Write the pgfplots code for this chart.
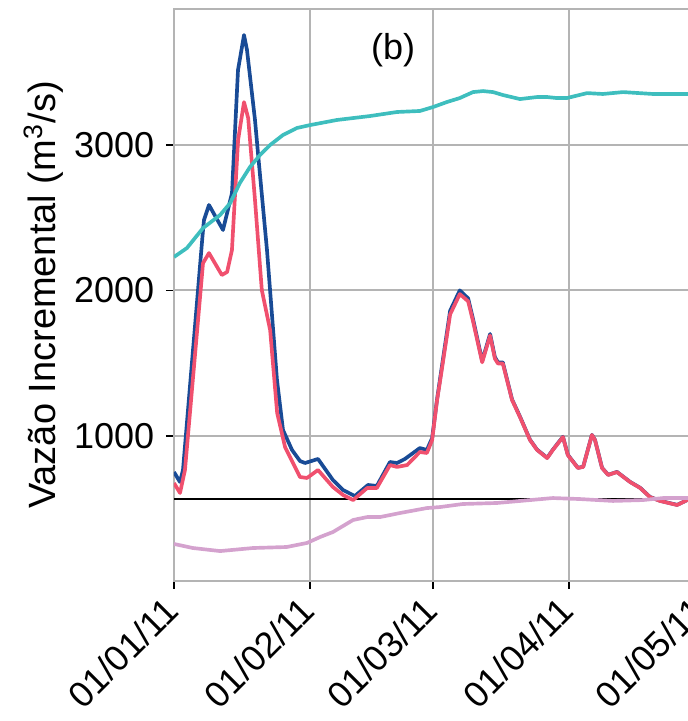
\documentclass[border=0pt]{standalone}
\usepackage{fontspec}
\setmainfont{Liberation Sans}
\usepackage{pgfplots}
\pgfplotsset{compat=1.18}
\definecolor{cblue}{RGB}{25,75,150}
\definecolor{cred}{RGB}{240,80,110}
\definecolor{cteal}{RGB}{62,190,190}
\definecolor{cpurple}{RGB}{212,162,206}
\definecolor{cgrid}{RGB}{180,180,180}
\newcommand{\fs}{\fontsize{10.8}{13}\selectfont}
\newcommand{\fl}{\fontsize{11.4}{13}\selectfont}
\begin{document}
\begin{tikzpicture}
\begin{axis}[
  scale only axis,
  width=159.36pt, height=171.6pt,
  xmin=0, xmax=121, ymin=0, ymax=3937,
  xtick={0,31,59,90,120},
  xticklabels={01/01/11,01/02/11,01/03/11,01/04/11,01/05/11},
  ytick={1000,2000,3000},
  grid=major,
  major grid style={cgrid, line width=0.6pt},
  axis line style={cgrid, line width=0.6pt},
  tick style={black, line width=0.5pt},
  major tick length=2.4pt,
  tick align=outside,
  xtick pos=bottom, ytick pos=left,
  /pgf/number format/assume math mode=true,
  /pgf/number format/1000 sep={},
  tick label style={font=\fs},
  xticklabel style={xshift=-3.5pt, rotate=45, anchor=north east, inner sep=1pt},
  every axis y label/.style={at={(axis description cs:0,0.5)}, xshift=-39pt, rotate=90, anchor=center, font=\fl},
  ylabel={Vazão Incremental (m\textsuperscript{3}/s)},
  clip=true,
]
\coordinate (O) at (rel axis cs:0,0);
\addplot[black, line width=0.8pt] coordinates {(0,564) (121,564)};
% blue
\addplot[cblue, line width=1.1pt, line join=round] coordinates {
(0,750) (1.37,681) (2.05,764) (6.61,2416) (6.83,2484) (7.97,2588) (11.16,2416)
(13.21,2670) (14.58,3517) (15.95,3758) (16.63,3654) (18.45,3173) (19.13,2945)
(21.18,2278) (23.46,1383) (24.83,1039) (26.88,902) (28.7,826) (29.84,812)
(32.8,840) (36.2,695) (38.5,626) (41.2,585) (44.2,661) (46.2,654) (49.2,819)
(50.8,812) (52.6,840) (56.0,915) (57.6,902) (58.8,984) (59.9,1246)
(60.6,1390) (62.9,1860) (65.1,2000) (67.0,1945) (68.1,1805) (70.2,1515)
(72.0,1700) (73.1,1540) (73.8,1505) (74.9,1505) (77.0,1250) (78.8,1132)
(81.1,972) (82.7,904) (85.0,848) (86.3,904) (88.6,993) (89.7,869) (92.0,779)
(93.2,786) (95.2,1006) (95.9,971) (97.5,779) (98.9,731) (100.9,751) (103.9,682)
(106.2,641) (108.4,579) (110.7,552) (114.6,524) (116.9,557) (121,590)
};
% red
\addplot[cred, line width=1.1pt, line join=round] coordinates {
(0,674) (1.37,606) (2.5,764) (6.61,2188) (7.97,2257) (10.9,2106) (12.1,2127)
(13.2,2278) (14.6,3035) (15.95,3296) (16.9,3186) (18.45,2622) (20.0,2003)
(21.9,1727) (23.5,1156) (25.3,922) (27.1,812) (28.7,716) (30.3,709) (32.8,764)
(36.2,647) (38.5,592) (40.8,557) (44.0,640) (46.2,640) (49.2,798) (50.8,785)
(53.1,798) (56.0,888) (57.6,881) (58.8,970) (59.9,1240)
(60.6,1375) (62.9,1835) (65.1,1975) (67.0,1925) (68.1,1790) (70.2,1505)
(72.0,1690) (73.1,1530) (73.8,1497) (74.9,1497) (77.0,1246) (78.8,1129)
(81.1,970) (82.7,902) (85.0,846) (86.3,902) (88.6,991) (89.7,867) (92.0,778)
(93.2,785) (95.2,1005) (95.9,970) (97.5,778) (98.9,730) (100.9,750) (103.9,681)
(106.2,640) (108.4,578) (110.7,551) (114.6,523) (116.9,557) (121,590)
};
% purple
\addplot[cpurple, line width=1.1pt, line join=round] coordinates {
(0,255) (4.3,227) (10.5,206) (18.0,227) (25.7,234) (30.3,262) (33.3,303)
(36.2,337) (40.8,420) (44.0,440) (46.9,440) (51.5,468) (57.6,502) (60.6,509)
(65.8,530) (73.6,537) (81.1,557) (86.3,571) (92.5,564) (100,551) (106.8,557)
(111.4,571) (116.9,571) (121,571)
};
% teal
\addplot[cteal, line width=1.1pt, line join=round] coordinates {
(0,2230) (2.96,2292) (6.61,2429) (10.5,2519) (12.8,2601) (15.0,2739) (17.3,2849)
(19.6,2932) (21.9,3001) (24.8,3069) (28.0,3118) (31.0,3138) (37.1,3173)
(44.6,3200) (50.8,3228) (56.0,3235) (59.0,3262) (62.2,3297) (65.1,3324)
(68.1,3365) (70.4,3372) (72.7,3365) (74.9,3345) (78.8,3317) (82.7,3331)
(85.0,3331) (87.2,3324) (89.5,3324) (94.1,3358) (97.7,3352) (102.3,3365)
(109.1,3352) (116.9,3352) (121,3352)
};
\node[font=\fs] at (axis cs:49.9,3654) {(b)};
\end{axis}
\pgfresetboundingbox
\path[use as bounding box] ([shift={(-52.2pt,-42pt)}]O) rectangle ([shift={(153.9pt,174.3pt)}]O);
\end{tikzpicture}
\end{document}
